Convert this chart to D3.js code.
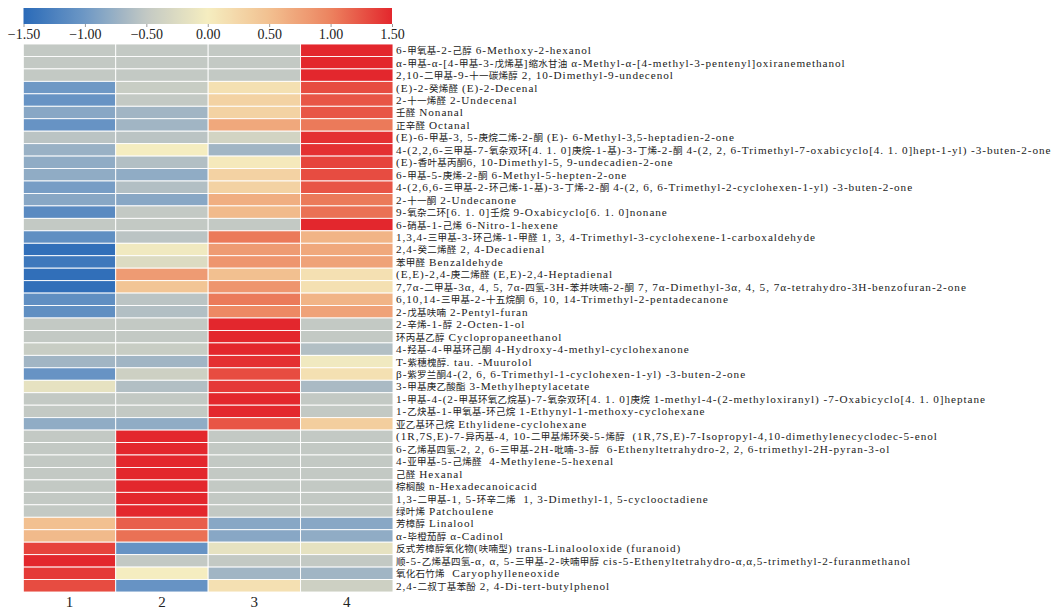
<!DOCTYPE html>
<html>
<head>
<meta charset="utf-8">
<script src="https://cdn.jsdelivr.net/npm/d3@7"></script>
<style>
  body { margin: 0; background: #fff; }
  svg { display: block; }
</style>
</head>
<body>
<svg id="chart" width="1055" height="610"></svg>
<script>
// Volatile compounds (row-standardised abundance, z-score) across four samples
const rowLabels = [
  "6-甲氧基-2-己醇 6-Methoxy-2-hexanol",
  "α-甲基-α-[4-甲基-3-戊烯基]缩水甘油 α-Methyl-α-[4-methyl-3-pentenyl]oxiranemethanol",
  "2,10-二甲基-9-十一碳烯醇 2, 10-Dimethyl-9-undecenol",
  "(E)-2-癸烯醛 (E)-2-Decenal",
  "2-十一烯醛 2-Undecenal",
  "壬醛 Nonanal",
  "正辛醛 Octanal",
  "(E)-6-甲基-3, 5-庚烷二烯-2-酮 (E)- 6-Methyl-3,5-heptadien-2-one",
  "4-(2,2,6-三甲基-7-氧杂双环[4. 1. 0]庚烷-1-基)-3-丁烯-2-酮 4-(2, 2, 6-Trimethyl-7-oxabicyclo[4. 1. 0]hept-1-yl) -3-buten-2-one",
  "(E)-香叶基丙酮6, 10-Dimethyl-5, 9-undecadien-2-one",
  "6-甲基-5-庚烯-2-酮 6-Methyl-5-hepten-2-one",
  "4-(2,6,6-三甲基-2-环己烯-1-基)-3-丁烯-2-酮 4-(2, 6, 6-Trimethyl-2-cyclohexen-1-yl) -3-buten-2-one",
  "2-十一酮 2-Undecanone",
  "9-氧杂二环[6. 1. 0]壬烷 9-Oxabicyclo[6. 1. 0]nonane",
  "6-硝基-1-己烯 6-Nitro-1-hexene",
  "1,3,4-三甲基-3-环己烯-1-甲醛 1, 3, 4-Trimethyl-3-cyclohexene-1-carboxaldehyde",
  "2,4-癸二烯醛 2, 4-Decadienal",
  "苯甲醛 Benzaldehyde",
  "(E,E)-2,4-庚二烯醛 (E,E)-2,4-Heptadienal",
  "7,7α-二甲基-3α, 4, 5, 7α-四氢-3H-苯并呋喃-2-酮 7, 7α-Dimethyl-3α, 4, 5, 7α-tetrahydro-3H-benzofuran-2-one",
  "6,10,14-三甲基-2-十五烷酮 6, 10, 14-Trimethyl-2-pentadecanone",
  "2-戊基呋喃 2-Pentyl-furan",
  "2-辛烯-1-醇 2-Octen-1-ol",
  "环丙基乙醇 Cyclopropaneethanol",
  "4-羟基-4-甲基环己酮 4-Hydroxy-4-methyl-cyclohexanone",
  "T-紫穗槐醇. tau. -Muurolol",
  "β-紫罗兰酮4-(2, 6, 6-Trimethyl-1-cyclohexen-1-yl) -3-buten-2-one",
  "3-甲基庚乙酸酯 3-Methylheptylacetate",
  "1-甲基-4-(2-甲基环氧乙烷基)-7-氧杂双环[4. 1. 0]庚烷 1-methyl-4-(2-methyloxiranyl) -7-Oxabicyclo[4. 1. 0]heptane",
  "1-乙炔基-1-甲氧基-环己烷 1-Ethynyl-1-methoxy-cyclohexane",
  "亚乙基环己烷 Ethylidene-cyclohexane",
  "(1R,7S,E)-7-异丙基-4, 10-二甲基烯环癸-5-烯醇  (1R,7S,E)-7-Isopropyl-4,10-dimethylenecyclodec-5-enol",
  "6-乙烯基四氢-2, 2, 6-三甲基-2H-吡喃-3-醇  6-Ethenyltetrahydro-2, 2, 6-trimethyl-2H-pyran-3-ol",
  "4-亚甲基-5-己烯醛  4-Methylene-5-hexenal",
  "己醛 Hexanal",
  "棕榈酸 n-Hexadecanoicacid",
  "1,3-二甲基-1, 5-环辛二烯  1, 3-Dimethyl-1, 5-cyclooctadiene",
  "绿叶烯 Patchoulene",
  "芳樟醇 Linalool",
  "α-毕橙茄醇 α-Cadinol",
  "反式芳樟醇氧化物(呋喃型) trans-Linalooloxide (furanoid)",
  "顺-5-乙烯基四氢-α, α, 5-三甲基-2-呋喃甲醇 cis-5-Ethenyltetrahydro-α,α,5-trimethyl-2-furanmethanol",
  "氧化石竹烯  Caryophylleneoxide",
  "2,4-二叔丁基苯酚 2, 4-Di-tert-butylphenol"
];

const colLabels = ["1", "2", "3", "4"];

// z-scores per sample column, one entry per compound (same order as rowLabels)
const z1 = [-0.5, -0.5, -0.5, -1.0, -1.05, -0.85, -1.05, -0.55, -0.75, -0.8, -0.8,
            -0.95, -0.85, -1.15, -0.5, -1.1, -1.45, -1.35, -1.45, -1.45, -1.1, -1.1,
            -0.5, -0.5, -0.45, -0.7, -1.05, -0.15, -0.5, -0.5, -0.8, -0.5, -0.5,
            -0.5, -0.5, -0.5, -0.5, -0.5, 0.5, 0.55, 1.35, 1.5, 1.4, 1.3];
const z2 = [-0.5, -0.5, -0.5, -0.45, -0.5, -0.7, -0.7, -0.55, 0.0, -0.6, -0.8,
            -0.6, -0.85, -0.5, -0.5, -0.55, -0.05, -0.25, 0.8, 0.45, -0.55, -0.6,
            -0.5, -0.5, -0.45, -0.7, -0.4, -0.6, -0.5, -0.5, -0.8, 1.5, 1.5,
            1.5, 1.5, 1.5, 1.5, 1.5, 1.2, 1.1, -1.05, -0.5, 0.0, -1.05];
const z3 = [-0.5, -0.5, -0.5, 0.15, 0.3, 0.3, 0.7, -0.35, -0.7, 0.05, 0.3,
            0.3, 0.65, 0.55, -0.5, 1.05, 0.8, 0.85, 0.5, 0.85, 1.05, 0.95,
            1.5, 1.5, 1.5, 1.45, 1.3, 1.4, 1.5, 1.5, 1.25, -0.5, -0.5,
            -0.5, -0.5, -0.5, -0.5, -0.5, -0.85, -0.85, -0.15, -0.5, -0.7, 0.15];
const z4 = [1.5, 1.5, 1.5, 1.3, 1.25, 1.25, 1.05, 1.45, 1.45, 1.35, 1.3,
            1.25, 1.05, 1.1, 1.5, 0.6, 0.7, 0.75, 0.15, 0.15, 0.6, 0.75,
            -0.5, -0.5, -0.6, -0.05, 0.15, -0.65, -0.5, -0.5, 0.35, -0.5, -0.5,
            -0.5, -0.5, -0.5, -0.5, -0.5, -0.85, -0.8, -0.15, -0.5, -0.7, -0.4];

const legendTicks = [-1.5, -1, -0.5, 0, 0.5, 1, 1.5];
const palette = ["#2a6ab8", "#6e98c5", "#c3c9c4", "#f5edc0", "#f2c090", "#ec835f", "#e3272d"];

const svg = d3.select("#chart");
// serif first so Latin text uses it; Chinese glyphs fall back to the CJK face
const serif = "'Liberation Serif', 'Times New Roman', 'Noto Sans CJK SC', serif";

const color = d3.scaleLinear().domain(legendTicks).range(palette).clamp(true);

const x = d3.scaleBand().domain(colLabels).range([23.3, 393]);
const y = d3.scaleBand().domain(d3.range(rowLabels.length)).range([44, 592]);

const columns = [z1, z2, z3, z4];
const cells = rowLabels.flatMap((name, i) =>
  colLabels.map((c, j) => ({ row: i, col: c, value: columns[j][i] })));

// heatmap cells
svg.append("g")
  .selectAll("rect")
  .data(cells)
  .join("rect")
  .attr("x", d => x(d.col))
  .attr("y", d => y(d.row))
  .attr("width", x.bandwidth())
  .attr("height", y.bandwidth())
  .attr("fill", d => color(d.value))
  .attr("stroke", "#ffffff")
  .attr("stroke-width", 0.9);

// compound names on the right: Chinese runs are set a little smaller than Latin runs
const isCJK = ch => /[\u3000-\u9fff\uff00-\uffef]/.test(ch);
function splitRuns(str) {
  const runs = [];
  for (const ch of str) {
    const k = isCJK(ch);
    if (runs.length && runs[runs.length - 1].cjk === k) runs[runs.length - 1].text += ch;
    else runs.push({ cjk: k, text: ch });
  }
  return runs;
}

const names = svg.append("g")
  .selectAll("text")
  .data(rowLabels)
  .join("text")
  .attr("x", 396)
  .attr("y", (d, i) => y(i) + y.bandwidth() / 2)
  .attr("dy", "0.35em")
  .attr("font-family", serif)
  .attr("font-size", 11.2)
  .attr("fill", "#222")
  .style("white-space", "pre");

names.selectAll("tspan")
  .data(d => splitRuns(d))
  .join("tspan")
  .attr("font-size", r => r.cjk ? 9.5 : 11.2)
  .attr("letter-spacing", r => r.cjk ? 0.25 : 0.95)
  .text(r => r.text);

// sample numbers under the columns
svg.append("g")
  .selectAll("text")
  .data(colLabels)
  .join("text")
  .attr("x", d => x(d) + x.bandwidth() / 2)
  .attr("y", 607)
  .attr("text-anchor", "middle")
  .attr("font-family", serif)
  .attr("font-size", 15)
  .attr("fill", "#222")
  .text(d => d);

// colour key
const lx = d3.scaleLinear().domain([-1.5, 1.5]).range([23.5, 392]);
const grad = svg.append("defs").append("linearGradient")
  .attr("id", "keyGradient")
  .attr("x1", "0%").attr("x2", "100%").attr("y1", "0%").attr("y2", "0%");
grad.selectAll("stop")
  .data(d3.range(0, 1.0001, 0.02))
  .join("stop")
  .attr("offset", t => (t * 100) + "%")
  .attr("stop-color", t => color(-1.5 + 3 * t));

svg.append("rect")
  .attr("x", lx(-1.5)).attr("y", 8)
  .attr("width", lx(1.5) - lx(-1.5)).attr("height", 16)
  .attr("fill", "url(#keyGradient)");

const keyAxis = svg.append("g")
  .attr("transform", "translate(0,24)")
  .call(d3.axisBottom(lx).tickValues(legendTicks).tickFormat(d3.format(".2f")).tickSize(3).tickPadding(2));
keyAxis.select(".domain").remove();
keyAxis.selectAll(".tick line").attr("stroke", "#999");
keyAxis.selectAll(".tick text")
  .attr("font-family", serif)
  .attr("font-size", 14)
  .attr("fill", "#222");
</script>
</body>
</html>
